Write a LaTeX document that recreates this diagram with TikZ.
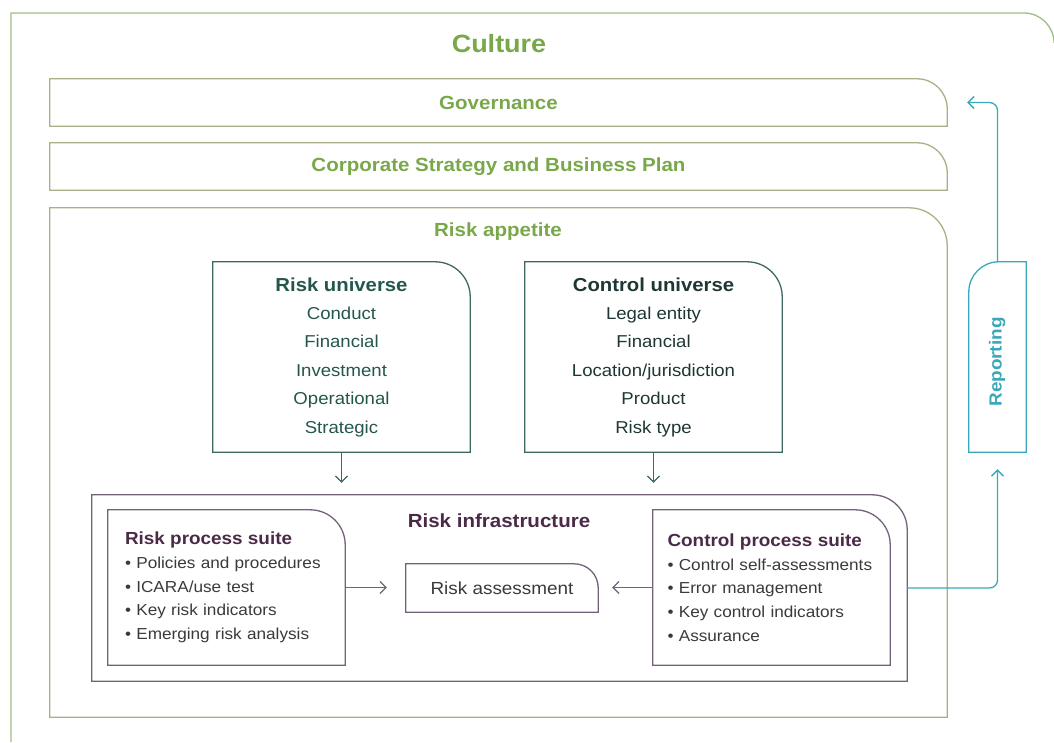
\documentclass[tikz,border=0pt]{standalone}
\usepackage{fontspec}
\setmainfont[FakeStretch=1.08]{Liberation Sans}
\usetikzlibrary{arrows.meta}

\definecolor{culturegreen}{HTML}{78A84A}
\definecolor{cultureline}{HTML}{9DBD86}
\definecolor{frameline}{HTML}{ABAE86}
\definecolor{univline}{HTML}{3F6863}
\definecolor{univtext}{HTML}{24564C}
\definecolor{ctrltext}{HTML}{1E3734}
\definecolor{infraline}{HTML}{74627A}
\definecolor{infratext}{HTML}{4B2A47}
\definecolor{itemtext}{HTML}{3A3A3A}
\definecolor{reportteal}{HTML}{3BA7BA}

\tikzset{
  box/.style={draw=none, inner sep=0pt, align=center},
  head/.style={culturegreen, font=\fontsize{19}{23}\selectfont\bfseries},
  univ/.style={box, minimum width=257pt, minimum height=190pt,
    font=\fontsize{17.2}{28.4}\selectfont},
  suite/.style={box, minimum width=237pt, minimum height=155pt,
    align=left, text=itemtext,
    font=\fontsize{15.9}{23.7}\selectfont},
  band/.style={box, minimum width=897pt, minimum height=47pt},
  downarrow/.style={univline, line width=1.2pt, -{Straight Barb[length=6pt,width=12pt]}},
  infraarrow/.style={infraline, line width=1.2pt, -{Straight Barb[length=6pt,width=12pt]}},
  reparrow/.style={reportteal, line width=1.3pt, rounded corners=8pt,
    -{Straight Barb[length=6pt,width=12pt]}},
}

% outline with the top right corner rounded
\newcommand{\tabline}[3]{%
  \draw[#3, line width=1.3pt] (#1.south west) -- (#1.north west)
    -- ([xshift=-#2]#1.north east) arc[start angle=90, end angle=0, radius=#2]
    -- (#1.south east) -- cycle;}

\begin{document}
\begin{tikzpicture}[x=1pt, y=-1pt]
  \useasboundingbox (0,0) rectangle (1054,742);

  % Culture
  \draw[cultureline, line width=1.3pt] (11,742) -- (11,13) -- (1024,13)
    arc[start angle=90, end angle=0, radius=30pt];
  \node[head, font=\fontsize{25}{30}\selectfont\bfseries] (culture) at (499,44) {Culture};

  % Governance and strategy
  \node[band, head] (gov) at (498.5,102.5) {Governance};
  \tabline{gov}{30pt}{frameline}
  \node[band, head] (strategy) at (498.5,166.5) {Corporate Strategy and Business Plan};
  \tabline{strategy}{30pt}{frameline}

  % Risk appetite
  \node[box, minimum width=897pt, minimum height=509pt] (appetite) at (498.5,462.5) {};
  \tabline{appetite}{38pt}{frameline}
  \node[head] (appetitelabel) at (498,232) {Risk appetite};

  % Universes
  \node[univ, text=univtext] (ru) at (341.5,357)
    {{\fontsize{18.8}{28.4}\selectfont\bfseries Risk universe}\\
     Conduct\\Financial\\Investment\\Operational\\Strategic};
  \tabline{ru}{35pt}{univline}
  \node[univ, text=ctrltext] (cu) at (653.5,357)
    {{\fontsize{18.8}{28.4}\selectfont\bfseries Control universe}\\
     Legal entity\\Financial\\Location/jurisdiction\\Product\\Risk type};
  \tabline{cu}{35pt}{univline}

  % Risk infrastructure
  \node[box, minimum width=815pt, minimum height=186pt] (ri) at (499.5,588) {};
  \tabline{ri}{35pt}{infraline}
  \node[infratext, font=\fontsize{19}{23}\selectfont\bfseries] (rilabel) at (499,521) {Risk infrastructure};

  \node[suite, text width=203pt] (rps) at (226.5,587.5)
    {{\fontsize{17.5}{23.7}\selectfont\bfseries\color{infratext}Risk process suite}\\
     \textbullet\ Policies and procedures\\
     \textbullet\ ICARA/use test\\
     \textbullet\ Key risk indicators\\
     \textbullet\ Emerging risk analysis};
  \tabline{rps}{35pt}{infraline}
  \node[suite, text width=208pt] (cps) at (771.5,587.5)
    {{\fontsize{17.5}{23.7}\selectfont\bfseries\color{infratext}Control process suite}\\
     \textbullet\ Control self-assessments\\
     \textbullet\ Error management\\
     \textbullet\ Key control indicators\\
     \textbullet\ Assurance};
  \tabline{cps}{35pt}{infraline}

  \node[box, minimum width=192pt, minimum height=48pt, text=itemtext,
    font=\fontsize{17.5}{20}\selectfont] (ra) at (502,588) {Risk assessment};
  \tabline{ra}{24pt}{infraline}

  % Reporting
  \node[box, minimum width=57pt, minimum height=190pt] (rep) at (997.5,357) {};
  \draw[reportteal, line width=1.3pt] (rep.south east) -- (rep.north east)
    -- ([xshift=30pt]rep.north west) arc[start angle=90, end angle=180, radius=30pt]
    -- (rep.south west) -- cycle;
  \node[reportteal, rotate=90, font=\fontsize{17.5}{20}\selectfont\bfseries] (replabel)
    at (997,362) {Reporting};

  % Connectors
  \draw[downarrow, shorten >=12pt] (ru.south) -- (ru.south |- ri.north);
  \draw[downarrow, shorten >=12pt] (cu.south) -- (cu.south |- ri.north);
  \draw[infraarrow, shorten >=19pt] (rps.east) -- (rps.east -| ra.west);
  \draw[infraarrow, shorten >=14pt] (cps.west) -- (cps.west -| ra.east);
  \draw[reparrow, shorten >=17pt] (ri.east) -| (rep.south);
  \draw[reparrow, shorten >=20pt] (rep.north) |- (gov.east);
\end{tikzpicture}
\end{document}
